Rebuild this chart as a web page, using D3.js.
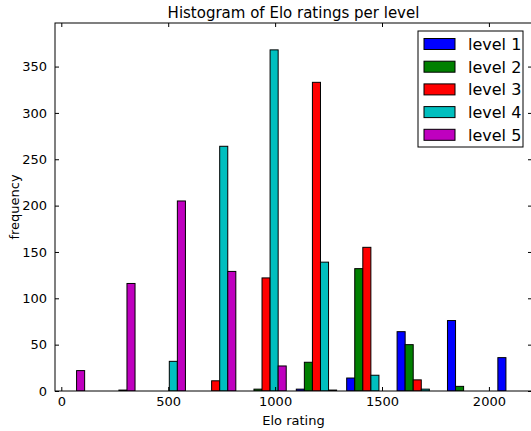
<!DOCTYPE html>
<html>
<head>
<meta charset="utf-8">
<script src="https://cdn.jsdelivr.net/npm/d3@7"></script>
<style>
  html, body { margin: 0; padding: 0; background: #fff; }
  svg { display: block; font-family: "DejaVu Sans", sans-serif; }
</style>
</head>
<body>
<svg id="chart" width="531" height="431"></svg>
<script>
// Histogram bin edges (Elo rating), 10 bins
const binStart = -103;
const binWidth = 235.7;
const binCount = 10;

const seriesNames = ["level 1", "level 2", "level 3", "level 4", "level 5"];
const seriesColors = ["#0000ff", "#008000", "#ff0000", "#00bfbf", "#bf00bf"];

// frequency per bin for each level
const level1 = [0, 0, 0, 0, 0, 2, 14, 64, 76, 36];
const level2 = [0, 0, 0, 0, 2, 31, 132, 50, 5, 0];
const level3 = [0, 0, 0, 11, 122, 333, 155, 12, 0, 0];
const level4 = [0, 1, 32, 264, 368, 139, 17, 2, 0, 0];
const level5 = [22, 116, 205, 129, 27, 1, 0, 0, 0, 0];
const seriesValues = [level1, level2, level3, level4, level5];

const xTicks = [0, 500, 1000, 1500, 2000];
const yTicks = [0, 50, 100, 150, 200, 250, 300, 350];

const titleText = "Histogram of Elo ratings per level";
const xLabel = "Elo rating";
const yLabel = "frequency";

const svg = d3.select("#chart");
const L = 55, R = 532, T = 23, B = 391;

const x = d3.scaleLinear().domain([-29.5, 2201.5]).range([L, R]);
const y = d3.scaleLinear().domain([0, 397]).range([B, T]);

const edges = d3.range(binCount).map(i => binStart + i * binWidth);
const nx = seriesValues.length;
const barW = 0.8 * binWidth / nx;

const plot = svg.append("g");
plot.append("clipPath").attr("id", "clip").append("rect")
  .attr("x", L).attr("y", T).attr("width", R - L).attr("height", B - T);
const barsG = plot.append("g").attr("clip-path", "url(#clip)");

seriesValues.forEach((vals, si) => {
  const data = vals.map((v, bi) => ({ v, c: edges[bi] + binWidth * (0.18 + 0.16 * si) }));
  barsG.selectAll(null).data(data.filter(d => d.v > 0)).enter().append("rect")
    .attr("x", d => x(d.c - barW / 2))
    .attr("width", d => x(d.c + barW / 2) - x(d.c - barW / 2))
    .attr("y", d => y(d.v))
    .attr("height", d => y(0) - y(d.v))
    .attr("fill", seriesColors[si])
    .attr("stroke", "#000")
    .attr("stroke-width", 1);
});

// frame
plot.append("rect").attr("x", L).attr("y", T).attr("width", R - L).attr("height", B - T)
  .attr("fill", "none").attr("stroke", "#000").attr("stroke-width", 1);

// axes with inward ticks
const tickLen = 4;
const xb = svg.append("g").attr("transform", `translate(0,${B})`)
  .call(d3.axisBottom(x).tickValues(xTicks).tickSize(-tickLen).tickPadding(6).tickFormat(d3.format("d")));
const xt = svg.append("g").attr("transform", `translate(0,${T})`)
  .call(d3.axisTop(x).tickValues(xTicks).tickSize(-tickLen).tickFormat(""));
const yl = svg.append("g").attr("transform", `translate(${L},0)`)
  .call(d3.axisLeft(y).tickValues(yTicks).tickSize(-tickLen).tickPadding(8).tickFormat(d3.format("d")));
const yr = svg.append("g").attr("transform", `translate(${R},0)`)
  .call(d3.axisRight(y).tickValues(yTicks).tickSize(-tickLen).tickFormat(""));
[xb, xt, yl, yr].forEach(g => {
  g.select(".domain").remove();
  g.selectAll("line").attr("stroke", "#000");
  g.selectAll("text").attr("font-size", 13).attr("fill", "#000")
    .attr("font-family", "DejaVu Sans, sans-serif");
});

// title and labels
svg.append("text").attr("x", (L + R) / 2).attr("y", 18).attr("text-anchor", "middle")
  .attr("font-size", 15).text(titleText);
svg.append("text").attr("x", (L + R) / 2).attr("y", 425).attr("text-anchor", "middle")
  .attr("font-size", 13).text(xLabel);
svg.append("text").attr("transform", `translate(19,${(T + B) / 2}) rotate(-90)`)
  .attr("text-anchor", "middle").attr("font-size", 13).text(yLabel);

// legend
const lg = svg.append("g");
lg.append("rect").attr("x", 418).attr("y", 31).attr("width", 105).attr("height", 116)
  .attr("fill", "#fff").attr("stroke", "#000").attr("stroke-width", 1);
seriesNames.forEach((name, i) => {
  const cy = 44 + i * 22.7;
  lg.append("rect").attr("x", 424).attr("y", cy - 5.5).attr("width", 31).attr("height", 11)
    .attr("fill", seriesColors[i]).attr("stroke", "#000").attr("stroke-width", 1);
  lg.append("text").attr("x", 468).attr("y", cy + 6).attr("font-size", 16).text(name);
});
</script>
</body>
</html>
